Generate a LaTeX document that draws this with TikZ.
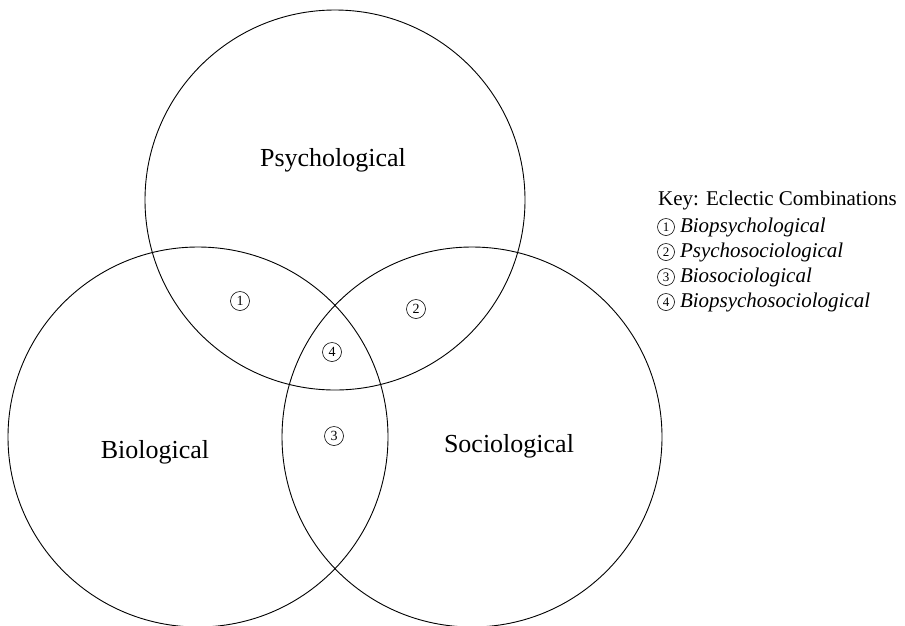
\documentclass[tikz,border=0pt]{standalone}
\usepackage{fontspec}
\setmainfont{Liberation Serif}
\usetikzlibrary{positioning}

\tikzset{
  area/.style={draw, line width=0.9pt},
  arealabel/.style={font=\fontsize{26}{30}\selectfont},
  num/.style={circle, draw, line width=0.6pt, inner sep=0pt, minimum size=19pt,
    font=\fontsize{14}{16}\selectfont},
  keynum/.style={num, minimum size=17pt, font=\fontsize{13}{15}\selectfont},
  keytext/.style={font=\fontsize{21}{25}\selectfont, inner sep=0pt},
  keyitem/.style={font=\fontsize{21}{25}\selectfont\itshape, inner sep=0pt}
}

\begin{document}
\begin{tikzpicture}[x=1pt, y=-1pt]
\useasboundingbox (0,0) rectangle (905,625);
\draw[area] (335,200) circle (190); %Psy
\draw[area] (198,437) circle (190); %Bio
\draw[area] (472,437) circle (190); %Soc
\node[arealabel] (psy) at (333,160) {Psychological};
\node[arealabel] (bio) at (155,452) {Biological};
\node[arealabel] (soc) at (509,446) {Sociological};
\node[num] (n1) at (240,301) {1};
\node[num] (n2) at (416,309) {2};
\node[num] (n3) at (334,436) {3};
\node[num] (n4) at (332,352) {4};
% key
\node[keytext, anchor=west] (key) at (658,200) {Key: Eclectic Combinations};
\node[keynum] (k1) at (666,227) {1};
\node[keyitem, right=5pt of k1] (t1) {Biopsychological};
\node[keynum] (k2) at (666,252) {2};
\node[keyitem, right=5pt of k2] (t2) {Psychosociological};
\node[keynum] (k3) at (666,277) {3};
\node[keyitem, right=5pt of k3] (t3) {Biosociological};
\node[keynum] (k4) at (666,302) {4};
\node[keyitem, right=5pt of k4] (t4) {Biopsychosociological};
\end{tikzpicture}
\end{document}
